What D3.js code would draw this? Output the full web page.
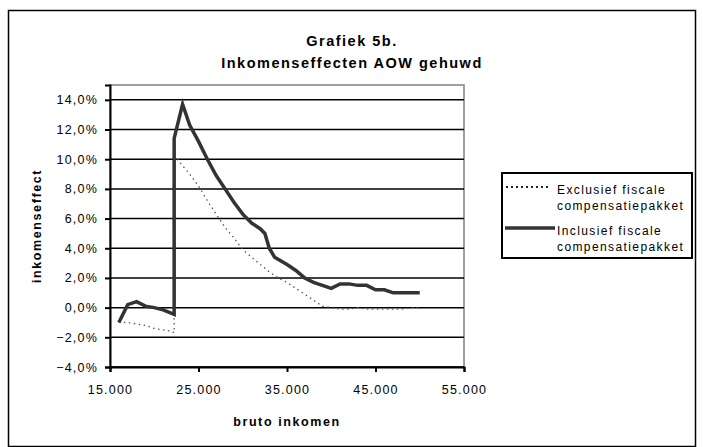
<!DOCTYPE html>
<html>
<head>
<meta charset="utf-8">
<script src="https://cdn.jsdelivr.net/npm/d3@7"></script>
<style>
  body { margin: 0; background: #fff; }
  text { font-family: "Liberation Sans", Arial, sans-serif; fill: #000; }
</style>
</head>
<body>
<svg id="chart" width="703" height="447"></svg>
<script>
// values (income in euro, effect in %)
var incomeIncl = [16000, 17000, 18000, 19000, 20000, 21000, 22250, 22250, 23200, 24000, 25000, 26000, 27000, 28000, 29000, 30000, 31000, 32000, 32500, 33000, 33600, 35000, 36000, 37000, 38000, 39000, 40000, 41000, 42000, 43000, 44000, 45000, 46000, 47000, 48000, 49000, 50000];
var effectIncl = [-1.0, 0.2, 0.4, 0.1, 0.0, -0.15, -0.45, 11.4, 13.7, 12.3, 11.2, 10.0, 8.9, 8.0, 7.1, 6.3, 5.7, 5.3, 5.0, 4.0, 3.4, 2.9, 2.5, 2.0, 1.7, 1.5, 1.3, 1.6, 1.6, 1.5, 1.5, 1.2, 1.2, 1.0, 1.0, 1.0, 1.0];

var incomeExcl = [16000, 17000, 18000, 19000, 20000, 21000, 22000, 22250, 22250, 23000, 24000, 25000, 26000, 27000, 28000, 29000, 30000, 31000, 32000, 33000, 34000, 35000, 36000, 37000, 38000, 39000, 40000, 41000, 42000, 43000, 44000, 45000, 46000, 47000, 48000, 49000, 50000];
var effectExcl = [-1.0, -1.0, -1.1, -1.2, -1.4, -1.5, -1.6, -1.7, 10.3, 9.7, 9.0, 8.2, 7.2, 6.3, 5.4, 4.7, 3.9, 3.4, 2.9, 2.4, 2.0, 1.7, 1.3, 0.9, 0.5, 0.1, 0.0, -0.1, -0.1, 0.0, -0.1, -0.1, -0.1, -0.1, -0.1, 0.0, 0.0];

var xTicks = [15000, 25000, 35000, 45000, 55000];
var yTicks = [-4, -2, 0, 2, 4, 6, 8, 10, 12, 14];
var titleLines = ["Grafiek 5b.", "Inkomenseffecten AOW gehuwd"];
var legendLabels = [["Exclusief fiscale", "compensatiepakket"], ["Inclusief fiscale", "compensatiepakket"]];

var svg = d3.select("#chart");
var plotLeft = 110, plotRight = 464, plotTop = 85, plotBottom = 367;

var xScale = d3.scaleLinear().domain([15000, 55000]).range([plotLeft, plotRight]);
var yScale = d3.scaleLinear().domain([-4, 15]).range([plotBottom, plotTop]);

var nl = d3.formatLocale({ decimal: ",", thousands: ".", grouping: [3], currency: ["€", ""] });
var fmtX = nl.format(",.0f");
var fmtY = function (v) { return nl.format(".1f")(v) + "%"; };

// chart border
svg.append("rect")
  .attr("x", 8.5).attr("y", 10.5)
  .attr("width", 687).attr("height", 436)
  .attr("fill", "none").attr("stroke", "#000").attr("stroke-width", 1.5);

// title
svg.selectAll(".title")
  .data(titleLines)
  .enter()
  .append("text")
  .attr("class", "title")
  .attr("x", 352)
  .attr("y", function (d, i) { return 46 + i * 22; })
  .attr("text-anchor", "middle")
  .style("font-size", "14.5px")
  .style("font-weight", "bold")
  .style("letter-spacing", "1.5px")
  .text(function (d) { return d; });

// plot area border (grey)
svg.append("rect")
  .attr("x", plotLeft).attr("y", plotTop)
  .attr("width", plotRight - plotLeft).attr("height", plotBottom - plotTop)
  .attr("fill", "#fff").attr("stroke", "#808080").attr("stroke-width", 1.5);

// gridlines
svg.append("g")
  .selectAll("line")
  .data(yTicks)
  .enter()
  .append("line")
  .attr("x1", plotLeft).attr("x2", plotRight)
  .attr("y1", function (d) { return yScale(d); })
  .attr("y2", function (d) { return yScale(d); })
  .attr("stroke", "#000").attr("stroke-width", 1.5);

// axes
var yAxis = d3.axisLeft(yScale).tickValues(yTicks).tickFormat(fmtY).tickSize(5).tickPadding(7);
var xAxis = d3.axisBottom(xScale).tickValues(xTicks).tickFormat(fmtX).tickSize(5).tickPadding(13);

var gy = svg.append("g")
  .attr("transform", "translate(" + plotLeft + ",0)")
  .call(yAxis);
var gx = svg.append("g")
  .attr("transform", "translate(0," + plotBottom + ")")
  .call(xAxis);

[gx, gy].forEach(function (g) {
  g.select(".domain").attr("stroke", "#000").attr("stroke-width", 2);
  g.selectAll(".tick line").attr("stroke", "#000").attr("stroke-width", 2);
  g.selectAll(".tick text")
    .style("font-size", "12.5px")
    .style("letter-spacing", "1.2px")
    .style("font-family", "'Liberation Sans', Arial, sans-serif")
    .attr("fill", "#000");
});

// axis titles
svg.append("text")
  .attr("x", (plotLeft + plotRight) / 2)
  .attr("y", 426)
  .attr("text-anchor", "middle")
  .style("font-size", "12.5px")
  .style("font-weight", "bold")
  .style("letter-spacing", "1.6px")
  .text("bruto inkomen");

svg.append("text")
  .attr("transform", "translate(41," + (plotBottom + plotTop) / 2 + ") rotate(-90)")
  .attr("text-anchor", "middle")
  .style("font-size", "12.5px")
  .style("font-weight", "bold")
  .style("letter-spacing", "1.6px")
  .text("inkomenseffect");

// lines
var line = d3.line()
  .x(function (d) { return xScale(d[0]); })
  .y(function (d) { return yScale(d[1]); });

var exclData = incomeExcl.map(function (v, i) { return [v, effectExcl[i]]; });
var inclData = incomeIncl.map(function (v, i) { return [v, effectIncl[i]]; });

svg.append("path")
  .datum(exclData)
  .attr("d", line)
  .attr("fill", "none")
  .attr("stroke", "#555")
  .attr("stroke-width", 1.3)
  .attr("stroke-dasharray", "1.5,3.5");

svg.append("path")
  .datum(inclData)
  .attr("d", line)
  .attr("fill", "none")
  .attr("stroke", "#333")
  .attr("stroke-width", 3.5)
  .attr("stroke-linejoin", "miter");

// legend
var legend = svg.append("g");
legend.append("rect")
  .attr("x", 502).attr("y", 173)
  .attr("width", 190).attr("height", 85)
  .attr("fill", "#fff").attr("stroke", "#000").attr("stroke-width", 2);

legend.append("line")
  .attr("x1", 506).attr("x2", 551)
  .attr("y1", 187).attr("y2", 187)
  .attr("stroke", "#222").attr("stroke-width", 2)
  .attr("stroke-dasharray", "2,3");
legend.append("line")
  .attr("x1", 505).attr("x2", 555)
  .attr("y1", 228).attr("y2", 228)
  .attr("stroke", "#333").attr("stroke-width", 3.5);

legendLabels.forEach(function (lines, i) {
  lines.forEach(function (t, j) {
    legend.append("text")
      .attr("x", 557)
      .attr("y", 194 + i * 41 + j * 16)
      .style("font-size", "12px")
      .style("letter-spacing", "1.4px")
      .text(t);
  });
});
</script>
</body>
</html>
